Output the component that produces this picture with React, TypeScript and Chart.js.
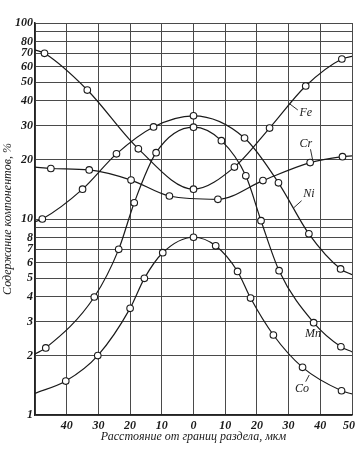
import React, { useEffect, useRef } from 'react';
import { Chart, registerables } from 'chart.js';

Chart.register(...registerables);

// ---- axes ----
const xMin = -50;
const xMax = 50;
const xTickValues = [-50, -40, -30, -20, -10, 0, 10, 20, 30, 40, 50];
const yTickValues = [1, 2, 3, 4, 5, 6, 7, 8, 9, 10, 20, 30, 40, 50, 60, 70, 80, 90, 100];
const yUnlabeled = [9, 90];

// ---- series (distance, µm; content, %) ----
const feX = [-50, -47, -33.5, -17.4, 0, 12.9, 24, 35.4, 46.8, 50];
const feY = [73, 70, 45.5, 22.8, 14.2, 18.4, 29.1, 47.7, 65.5, 67.5];

const crX = [-50, -45, -32.9, -19.7, -7.6, 7.7, 21.9, 36.8, 47, 50];
const crY = [18.4, 18.1, 17.8, 15.8, 13.1, 12.6, 15.7, 19.4, 20.8, 21];

const niX = [-50, -47.7, -35, -24.3, -12.6, 0, 16.1, 26.8, 36.4, 46.4, 50];
const niY = [9.7, 10, 14.2, 21.5, 29.5, 33.6, 25.9, 15.3, 8.4, 5.56, 5.2];

const mnX = [-50, -46.6, -31.3, -23.6, -18.7, -11.8, 0, 8.8, 16.5, 21.3, 27, 37.9, 46.5, 50];
const mnY = [2.05, 2.2, 4.0, 7.0, 12.1, 21.8, 29.4, 25.1, 16.6, 9.8, 5.45, 2.96, 2.23, 2.1];

const coX = [-50, -40.3, -30.2, -20, -15.5, -9.7, 0, 7, 13.9, 18, 25.2, 34.4, 46.7, 50];
const coY = [1.29, 1.49, 2.01, 3.5, 4.98, 6.73, 8.07, 7.3, 5.4, 3.95, 2.56, 1.75, 1.33, 1.28];

// ---- curve labels (data units) ----
const curveNames = ['Fe', 'Cr', 'Ni', 'Mn', 'Co'];
const nameX = [35.4, 35.4, 36.4, 37.7, 34.2];
const nameY = [34.7, 24.3, 13.4, 2.59, 1.36];
const leaderX: (number[] | null)[] = [[30.4, 32.9], [36.9, 37.6], [34.1, 31.6], null, [35.4, 36.5]];
const leaderY: (number[] | null)[] = [[38.6, 36], [22.7, 19.95], [12.4, 11.4], null, [1.48, 1.6]];

const yTitle = 'Содержание компонентов, %';
const xTitle = 'Расстояние от границ раздела, мкм';

const FONT = "'Liberation Serif', 'DejaVu Serif', serif";
const INK = '#1a1a1a';

const toPoints = (xs: number[], ys: number[]) => xs.map((x, i) => ({ x, y: ys[i] }));

const labelPlugin = {
  id: 'curveLabels',
  afterDatasetsDraw(chart: any) {
    const { ctx, scales } = chart;
    const xs = scales.x;
    const ys = scales.y;
    ctx.save();
    ctx.font = `italic 12px ${FONT}`;
    ctx.fillStyle = INK;
    ctx.strokeStyle = INK;
    ctx.textAlign = 'center';
    ctx.textBaseline = 'middle';
    curveNames.forEach((name, i) => {
      ctx.fillText(name, xs.getPixelForValue(nameX[i]), ys.getPixelForValue(nameY[i]));
      const lx = leaderX[i];
      const ly = leaderY[i];
      if (lx && ly) {
        ctx.beginPath();
        ctx.lineWidth = 0.9;
        ctx.moveTo(xs.getPixelForValue(lx[0]), ys.getPixelForValue(ly[0]));
        ctx.lineTo(xs.getPixelForValue(lx[1]), ys.getPixelForValue(ly[1]));
        ctx.stroke();
      }
    });
    ctx.restore();
  },
};

function makeDataset(label: string, xs: number[], ys: number[]) {
  const n = xs.length;
  return {
    label,
    data: toPoints(xs, ys),
    borderColor: INK,
    borderWidth: 1.2,
    pointBackgroundColor: '#ffffff',
    pointBorderColor: INK,
    pointBorderWidth: 1.1,
    pointRadius: xs.map((_, i) => (i === 0 || i === n - 1 ? 0 : 3.3)),
    pointHoverRadius: 0,
    cubicInterpolationMode: 'monotone' as const,
    fill: false,
  };
}

export default function App() {
  const canvasRef = useRef<HTMLCanvasElement | null>(null);

  useEffect(() => {
    const canvas = canvasRef.current;
    if (!canvas) return;
    const chart = new Chart(canvas, {
      type: 'line',
      data: {
        datasets: [
          makeDataset('Fe', feX, feY),
          makeDataset('Cr', crX, crY),
          makeDataset('Ni', niX, niY),
          makeDataset('Mn', mnX, mnY),
          makeDataset('Co', coX, coY),
        ],
      },
      options: {
        responsive: false,
        animation: false,
        devicePixelRatio: 1,
        layout: { padding: { left: 0, top: 23, right: 4, bottom: 0 } },
        plugins: {
          legend: { display: false },
          tooltip: { enabled: false },
        },
        scales: {
          x: {
            type: 'linear',
            min: xMin,
            max: xMax,
            afterBuildTicks: (scale: any) => {
              scale.ticks = xTickValues.map((v) => ({ value: v }));
            },
            afterFit: (scale: any) => {
              scale.height = 47;
              scale.paddingLeft = 0;
              scale.paddingRight = 0;
            },
            ticks: {
              autoSkip: false,
              maxRotation: 0,
              padding: 4,
              color: INK,
              font: { family: FONT, size: 12, style: 'italic', weight: 'bold' },
              callback: (v: any) => {
                const n = Number(v);
                if (n === xMin) return '';
                if (n === xMax) return String(n) + '\u2002';
                return String(Math.abs(n));
              },
            },
            grid: { color: '#4a4a4a', lineWidth: 1, drawTicks: false },
            border: { color: '#222', width: 1.5 },
            title: {
              display: true,
              text: xTitle,
              color: INK,
              font: { family: FONT, size: 12, style: 'italic' },
              padding: { top: 2, bottom: 18 },
            },
          },
          y: {
            type: 'logarithmic',
            min: 1,
            max: 100,
            afterBuildTicks: (scale: any) => {
              scale.ticks = yTickValues.map((v) => ({ value: v }));
            },
            afterFit: (scale: any) => {
              scale.width = 35;
              scale.paddingTop = 0;
              scale.paddingBottom = 0;
            },
            ticks: {
              autoSkip: false,
              padding: 2,
              color: INK,
              font: { family: FONT, size: 12, style: 'italic', weight: 'bold' },
              callback: (v: any) => (yUnlabeled.includes(Number(v)) ? '' : String(v)),
            },
            grid: { color: '#4a4a4a', lineWidth: 1, drawTicks: false },
            border: { color: '#222', width: 1.5 },
            title: {
              display: true,
              text: yTitle,
              color: INK,
              font: { family: FONT, size: 12, style: 'italic' },
              padding: { top: 1, bottom: 0 },
            },
          },
        },
      },
      plugins: [labelPlugin],
    });
    return () => chart.destroy();
  }, []);

  return (
    <div style={{ position: 'absolute', left: 0, top: 0, width: 356, height: 462, background: '#fff' }}>
      <canvas ref={canvasRef} width={356} height={462} style={{ display: 'block' }} />
    </div>
  );
}
